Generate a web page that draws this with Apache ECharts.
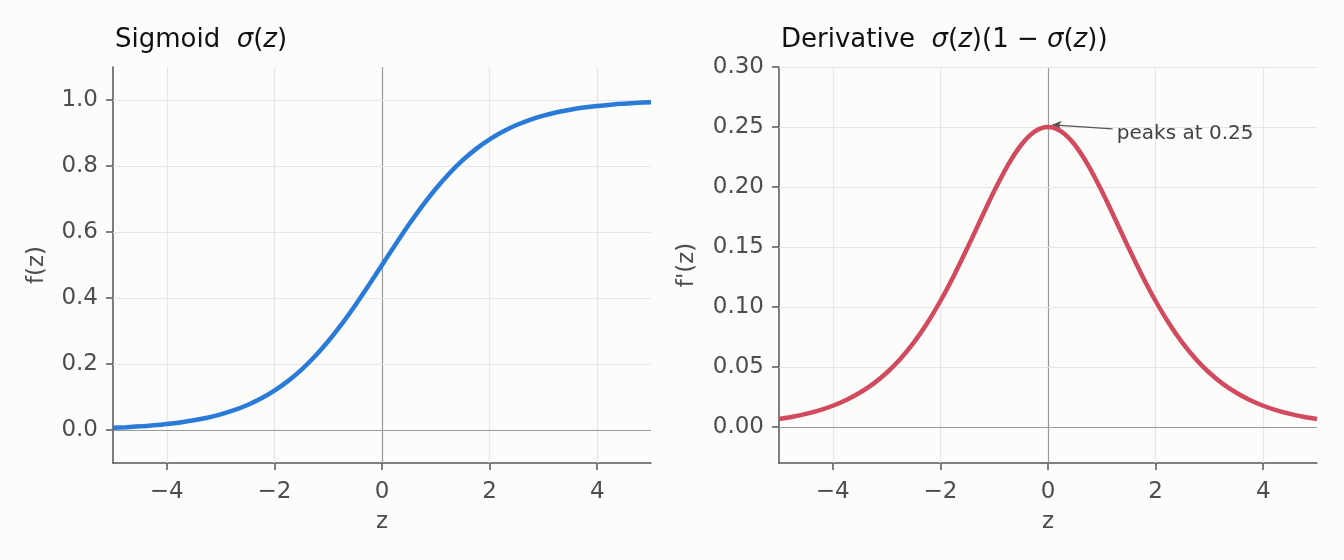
<!DOCTYPE html>
<html>
<head>
<meta charset="utf-8">
<script src="https://cdn.jsdelivr.net/npm/echarts@6/dist/echarts.min.js"></script>
<style>
  html, body { margin: 0; padding: 0; background: #fcfcfb; }
  #main { width: 1344px; height: 560px; }
</style>
</head>
<body>
<div id="main"></div>
<script>
// z samples (step 0.25)
const zValues = [
  -5, -4.75, -4.5, -4.25, -4, -3.75, -3.5, -3.25, -3, -2.75, -2.5, -2.25, -2, -1.75, -1.5, -1.25, -1, -0.75, -0.5, -0.25,
  0, 0.25, 0.5, 0.75, 1, 1.25, 1.5, 1.75, 2, 2.25, 2.5, 2.75, 3, 3.25, 3.5, 3.75, 4, 4.25, 4.5, 4.75, 5
];
// sigmoid curve
const sigmoidValues = [
  0.0067, 0.0086, 0.0110, 0.0141, 0.0180, 0.0230, 0.0293, 0.0373, 0.0474, 0.0601, 0.0759, 0.0954, 0.1192, 0.1481, 0.1824, 0.2227, 0.2689, 0.3208, 0.3775, 0.4378,
  0.5, 0.5622, 0.6225, 0.6792, 0.7311, 0.7773, 0.8176, 0.8519, 0.8808, 0.9046, 0.9241, 0.9399, 0.9526, 0.9627, 0.9707, 0.9770, 0.9820, 0.9859, 0.9890, 0.9914, 0.9933
];
// derivative curve
const derivValues = [
  0.0066, 0.0085, 0.0109, 0.0139, 0.0177, 0.0225, 0.0285, 0.0359, 0.0452, 0.0565, 0.0701, 0.0863, 0.1050, 0.1261, 0.1491, 0.1731, 0.1966, 0.2179, 0.2350, 0.2461,
  0.25, 0.2461, 0.2350, 0.2179, 0.1966, 0.1731, 0.1491, 0.1261, 0.1050, 0.0863, 0.0701, 0.0565, 0.0452, 0.0359, 0.0285, 0.0225, 0.0177, 0.0139, 0.0109, 0.0085, 0.0066
];
const xTicks = [-4, -2, 0, 2, 4];
const yTicksLeft = [0, 0.2, 0.4, 0.6, 0.8, 1.0];
const yTicksRight = [0, 0.05, 0.10, 0.15, 0.20, 0.25, 0.30];

const FONT = 'DejaVu Sans';
const labelColor = '#4d4d4d';
const axisColor = '#555555';
const gridColor = '#e6e6e6';
const zeroColor = '#9a9a9a';
const TICK_FS = 23;

const myChart = echarts.init(document.getElementById('main'));

function xAxisOpt(idx) {
  return {
    type: 'value', gridIndex: idx, min: -5, max: 5,
    name: 'z', nameLocation: 'middle', nameGap: 48,
    nameTextStyle: { color: labelColor, fontSize: TICK_FS, fontFamily: FONT },
    axisLine: { show: true, onZero: false, lineStyle: { color: axisColor, width: 1.5 } },
    axisTick: { show: true, customValues: xTicks, length: 7, lineStyle: { color: axisColor, width: 1.5 } },
    axisLabel: {
      customValues: xTicks, color: labelColor, fontSize: TICK_FS, fontFamily: FONT, margin: 18,
      formatter: v => (v < 0 ? '\u2212' + Math.abs(v) : String(v))
    },
    splitLine: { show: false }
  };
}

function yAxisOpt(idx, min, max, ticks, digits, name, gap) {
  return {
    type: 'value', gridIndex: idx, min: min, max: max,
    name: name, nameLocation: 'middle', nameGap: gap, nameRotate: 90,
    nameTextStyle: { color: labelColor, fontSize: TICK_FS, fontFamily: FONT },
    axisLine: { show: true, onZero: false, lineStyle: { color: axisColor, width: 1.5 } },
    axisTick: { show: true, customValues: ticks, length: 7, lineStyle: { color: axisColor, width: 1.5 } },
    axisLabel: {
      customValues: ticks, color: labelColor, fontSize: TICK_FS, fontFamily: FONT, margin: 15,
      formatter: v => v.toFixed(digits)
    },
    splitLine: { show: false }
  };
}

// grid lines drawn as markLines so they sit on the custom tick values
function gridLines(yTicks) {
  const data = [];
  xTicks.forEach(v => data.push({ xAxis: v, lineStyle: { color: v === 0 ? zeroColor : gridColor, width: 1.2 } }));
  yTicks.forEach(v => data.push({ yAxis: v, lineStyle: { color: v === 0 ? zeroColor : gridColor, width: 1.2 } }));
  return {
    silent: true, symbol: 'none', label: { show: false },
    lineStyle: { type: 'solid' }, data: data
  };
}

function pairs(ys) {
  return zValues.map((z, i) => [z, ys[i]]);
}

const titleRich = {
  n: { fontFamily: FONT, fontSize: 26, fontWeight: 'normal', color: '#111' },
  i: { fontFamily: FONT, fontSize: 26, fontWeight: 'normal', fontStyle: 'italic', color: '#111' }
};

myChart.setOption({
  backgroundColor: '#fcfcfb',
  animation: false,
  title: [
    {
      left: 110, top: 22, text: '{n|Sigmoid  }{i|σ}{n|(}{i|z}{n|)}',
      textStyle: { fontWeight: 'normal', rich: titleRich }
    },
    {
      left: 776, top: 22, text: '{n|Derivative  }{i|σ}{n|(}{i|z}{n|)(1 − }{i|σ}{n|(}{i|z}{n|))}',
      textStyle: { fontWeight: 'normal', rich: titleRich }
    }
  ],
  grid: [
    { left: 113, width: 538, top: 67, bottom: 97 },
    { left: 779, width: 538, top: 67, bottom: 97 }
  ],
  xAxis: [xAxisOpt(0), xAxisOpt(1)],
  yAxis: [
    yAxisOpt(0, -0.1, 1.1, yTicksLeft, 1, 'f(z)', 64),
    yAxisOpt(1, -0.03, 0.30, yTicksRight, 2, "f'(z)", 80)
  ],
  series: [
    {
      type: 'line', xAxisIndex: 0, yAxisIndex: 0, data: [], z: 1,
      markLine: gridLines(yTicksLeft)
    },
    {
      type: 'line', xAxisIndex: 1, yAxisIndex: 1, data: [], z: 1,
      markLine: gridLines(yTicksRight)
    },
    {
      name: 'sigmoid', type: 'line', xAxisIndex: 0, yAxisIndex: 0, z: 5,
      data: pairs(sigmoidValues), smooth: 0.3, showSymbol: false,
      lineStyle: { color: '#2a7ad9', width: 4.5 }
    },
    {
      name: 'derivative', type: 'line', xAxisIndex: 1, yAxisIndex: 1, z: 5,
      data: pairs(derivValues), smooth: 0.3, showSymbol: false,
      lineStyle: { color: '#d24a5e', width: 4.5 },
      markLine: {
        silent: true, symbol: ['none', 'arrow'], symbolSize: [7, 9],
        label: { show: false },
        lineStyle: { color: '#555', width: 1.3, type: 'solid' },
        data: [[{ coord: [1.2, 0.2485] }, { coord: [0.08, 0.2518] }]]
      },
      markPoint: {
        silent: true, symbol: 'circle', symbolSize: 0,
        data: [{
          coord: [1.28, 0.2445],
          label: {
            show: true, position: 'right', distance: 0, formatter: 'peaks at 0.25',
            color: '#444', fontSize: 20, fontFamily: FONT
          }
        }]
      }
    }
  ]
});
</script>
</body>
</html>
